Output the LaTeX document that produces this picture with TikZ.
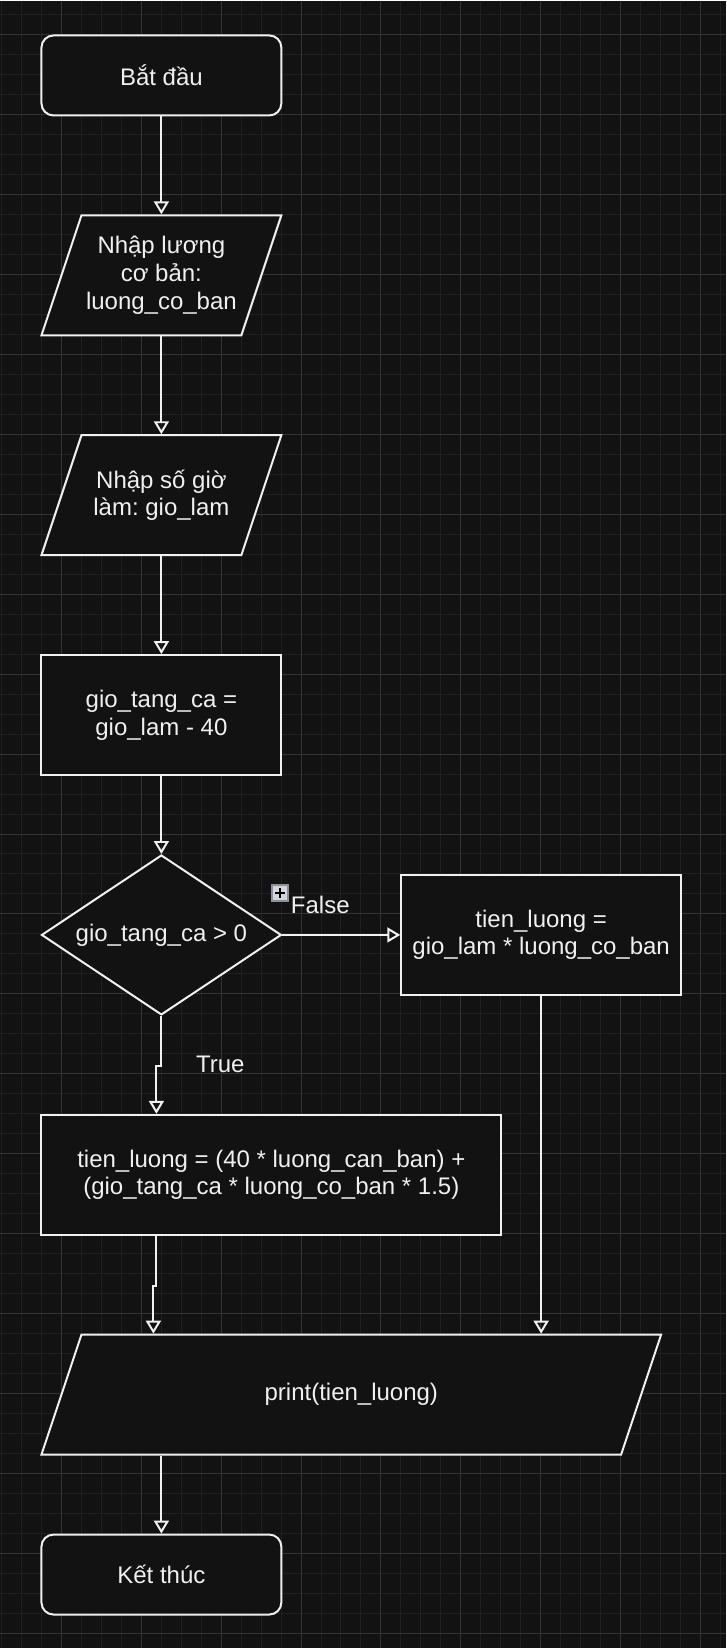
\documentclass[tikz,border=0pt]{standalone}
\usepackage{fontspec}
\setmainfont{Liberation Sans}
\frenchspacing
\usetikzlibrary{arrows.meta,shapes.geometric}
\definecolor{bgc}{HTML}{121212}
\definecolor{gridminor}{HTML}{1F1F1F}
\definecolor{gridmajor}{HTML}{343434}
\definecolor{linec}{HTML}{F0F0F0}
\definecolor{foldfill}{HTML}{D4D6DA}
\definecolor{foldline}{HTML}{8A909C}

\begin{document}
\begin{tikzpicture}[x=1pt,y=-1pt,
    every node/.style={text=linec,font=\fontsize{24pt}{27.6pt}\selectfont},
    box/.style={draw=linec,line width=2pt,fill=bgc,minimum width=240pt,minimum height=120pt,align=center,inner sep=0pt},
    term/.style={box,rounded corners=12pt,minimum height=80pt},
    io/.style={box,draw=none,fill=none},
    ioshape/.style={draw=linec,fill=bgc,line width=2pt},
    cond/.style={box,diamond,aspect=1.5,minimum height=160pt},
    fold/.style={draw=foldline,line width=1.5pt,fill=foldfill,minimum size=16pt,inner sep=0pt},
    flow/.style={draw=linec,line width=2pt,-{Triangle[open,length=13pt,width=15pt]}}]
      \fill[bgc] (0,0) rectangle (726,1648);
      \foreach \x in {0.7,20.7,...,720.7} \draw[gridminor,line width=1pt] (\x,0) -- (\x,1648);
      \foreach \y in {14,34,...,1634} \draw[gridminor,line width=1pt] (0,\y) -- (726,\y);
      \foreach \x in {60.7,140.7,...,700.7} \draw[gridmajor,line width=1pt] (\x,0) -- (\x,1648);
      \foreach \y in {34,114,...,1634} \draw[gridmajor,line width=1pt] (0,\y) -- (726,\y);

      \filldraw[ioshape] (81,215) -- (281,215) -- (241,335) -- (41,335) -- cycle;
      \filldraw[ioshape] (81,435) -- (281,435) -- (241,555) -- (41,555) -- cycle;
      \filldraw[ioshape] (81,1335) -- (661,1335) -- (621,1455) -- (41,1455) -- cycle;

      \node[term] (start) at (161,75) {Bắt đầu};
      \node[io] (in1) at (161,275) {Nhập lương\\cơ bản:\\luong\_co\_ban};
      \node[io] (in2) at (161,495) {Nhập số giờ\\làm: gio\_lam};
      \node[box] (ot) at (161,715) {gio\_tang\_ca =\\gio\_lam - 40};
      \node[cond] (dec) at (161,935) {gio\_tang\_ca > 0};
      \node[box,minimum width=280pt] (pay2) at (541,935) {tien\_luong =\\gio\_lam * luong\_co\_ban};
      \node[box,minimum width=460pt] (pay1) at (271,1175) {tien\_luong = (40 * luong\_can\_ban) +\\(gio\_tang\_ca * luong\_co\_ban * 1.5)};
      \node[io,minimum width=620pt] (out) at (351,1395) {print(tien\_luong)};
      \node[term] (stop) at (161,1575) {Kết thúc};

      \node (lf) at (320,905) {False};
      \node (lt) at (220,1064) {True};
      \node[fold] (plus) at (279.5,893) {};
      \draw[black,line width=2pt] ([xshift=-5pt]plus.center) -- ([xshift=5pt]plus.center);
      \draw[black,line width=2pt] ([yshift=-5pt]plus.center) -- ([yshift=5pt]plus.center);

      \draw[flow] (start.south) -- (in1.north);
      \draw[flow] (in1.south) -- (in2.north);
      \draw[flow] (in2.south) -- (ot.north);
      \draw[flow] (ot.south) -- (dec.north);
      \draw[flow] (dec.east) -- (pay2.west);
      \draw[flow] (dec.south) -- ++(0,50) -| ([xshift=-115pt]pay1.north);
      \draw[flow] ([xshift=-115pt]pay1.south) -- ++(0,50) -| ([xshift=-198pt]out.north);
      \draw[flow] (pay2.south) -- (pay2.south |- out.north);
      \draw[flow] (stop.north |- out.south) -- (stop.north);
\end{tikzpicture}
\end{document}
